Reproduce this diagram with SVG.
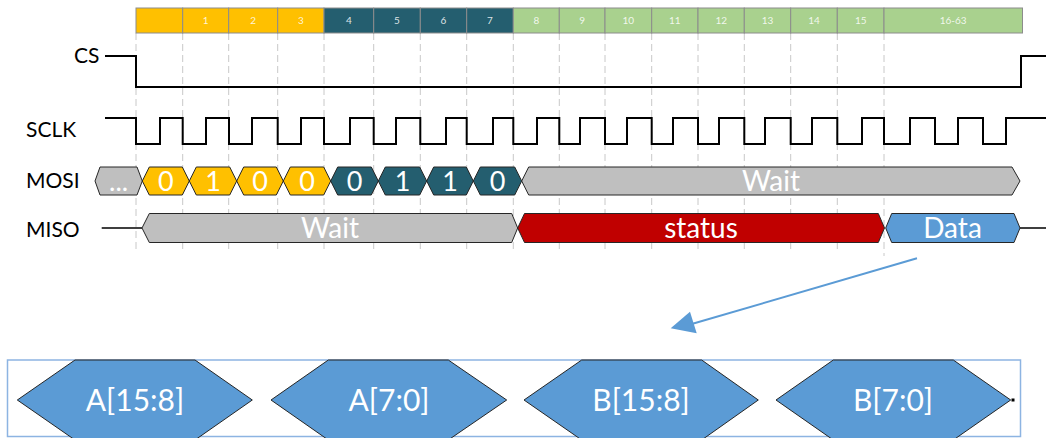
<svg xmlns="http://www.w3.org/2000/svg" width="1046" height="438" viewBox="0 0 1046 438">
<defs>
<style>
.lbl{font-family:Lato,"Liberation Sans",sans-serif;font-size:21px;fill:#000}
.hd{font-family:Lato,"Liberation Sans",sans-serif;font-size:10px;fill:#fff;fill-opacity:0.85;text-anchor:middle}
.cell{stroke:#8c8c8c;stroke-width:1}
.y{fill:#FFC000}
.t{fill:#245E6F}
.g{fill:#A9D18E}
.grid{stroke:#c8c8c8;stroke-width:1;stroke-dasharray:7 4;fill:none}
.wave{fill:none;stroke:#000;stroke-width:2}
.hex{stroke:#262626;stroke-width:1}
.ht{font-family:Lato,"Liberation Sans",sans-serif;font-size:27px;fill:#fff;text-anchor:middle}
.mt{font-family:Lato,"Liberation Sans",sans-serif;font-size:28px;fill:#fff;text-anchor:middle}
.bt{font-family:Lato,"Liberation Sans",sans-serif;font-size:30px;fill:#fff;text-anchor:middle}
</style>
</defs>
<rect width="1046" height="438" fill="#fff"/>

<g id="grid">
<path class="grid" d="M136,33V252M182.7,33V252M228.7,33V252M277.7,33V252M324,33V252M373.7,33V252M420.3,33V252M466.7,33V252M513.3,33V252M559.3,33V252M605,33V252M651.7,33V252M698,33V252M744.3,33V252M790.7,33V252M837.3,33V252M884,33V256"/>
</g>

<g id="header">
<rect class="cell y" x="136" y="8" width="46.7" height="25"/>
<rect class="cell y" x="182.7" y="8" width="46" height="25"/>
<rect class="cell y" x="228.7" y="8" width="49" height="25"/>
<rect class="cell y" x="277.7" y="8" width="46.3" height="25"/>
<rect class="cell t" x="324" y="8" width="49.7" height="25"/>
<rect class="cell t" x="373.7" y="8" width="46.6" height="25"/>
<rect class="cell t" x="420.3" y="8" width="46.4" height="25"/>
<rect class="cell t" x="466.7" y="8" width="46.6" height="25"/>
<rect class="cell g" x="513.3" y="8" width="46" height="25"/>
<rect class="cell g" x="559.3" y="8" width="45.7" height="25"/>
<rect class="cell g" x="605" y="8" width="46.7" height="25"/>
<rect class="cell g" x="651.7" y="8" width="46.3" height="25"/>
<rect class="cell g" x="698" y="8" width="46.3" height="25"/>
<rect class="cell g" x="744.3" y="8" width="46.4" height="25"/>
<rect class="cell g" x="790.7" y="8" width="46.6" height="25"/>
<rect class="cell g" x="837.3" y="8" width="46.7" height="25"/>
<rect class="cell g" x="884" y="8" width="138.5" height="25"/>
<text class="hd" x="205.7" y="24">1</text>
<text class="hd" x="253.2" y="24">2</text>
<text class="hd" x="300.8" y="24">3</text>
<text class="hd" x="348.8" y="24">4</text>
<text class="hd" x="397" y="24">5</text>
<text class="hd" x="443.5" y="24">6</text>
<text class="hd" x="490" y="24">7</text>
<text class="hd" x="536.3" y="24">8</text>
<text class="hd" x="582.2" y="24">9</text>
<text class="hd" x="628.3" y="24">10</text>
<text class="hd" x="674.8" y="24">11</text>
<text class="hd" x="721.2" y="24">12</text>
<text class="hd" x="767.5" y="24">13</text>
<text class="hd" x="814" y="24">14</text>
<text class="hd" x="860.7" y="24">15</text>
<text class="hd" x="953.2" y="24">16-63</text>
</g>

<g id="labels">
<text class="lbl" x="74" y="63">CS</text>
<text class="lbl" x="26" y="137">SCLK</text>
<text class="lbl" x="26" y="188">MOSI</text>
<text class="lbl" x="26" y="237">MISO</text>
</g>

<g id="cs">
<path class="wave" d="M105,56H136V87H1021V56H1046"/>
</g>

<g id="sclk">
<path class="wave" d="M105,118H136V144H160V118H182.7V144H206V118H229V144H252V118H277.7V144H301V118H324V144H350V118H373.7V144H396V118H420.3V144H446V118H466.7V144H493V118H513.3V144H537V118H559.3V144H580V118H605V144H627V118H651.7V144H673V118H698V144H719V118H744.3V144H765V118H790.7V144H812V118H837.3V144H862V118H884V144H910V118H935V144H958V118H983V144H1006V118H1046"/>
</g>

<g id="mosi">
<polygon class="hex" fill="#BFBFBF" points="95,181 100,167 137,167 142.3,181 137,195 100,195"/>
<text class="ht" x="118.6" y="191" font-size="20">...</text>
<polygon class="hex y" points="142.3,181 149.3,167 182.3,167 189.3,181 182.3,195 149.3,195"/>
<text class="ht" x="165.8" y="191">0</text>
<polygon class="hex y" points="189.3,181 196.3,167 229.7,167 236.7,181 229.7,195 196.3,195"/>
<text class="ht" x="213" y="191">1</text>
<polygon class="hex y" points="236.7,181 243.7,167 276.3,167 283.3,181 276.3,195 243.7,195"/>
<text class="ht" x="260" y="191">0</text>
<polygon class="hex y" points="283.3,181 290.3,167 323.7,167 330.7,181 323.7,195 290.3,195"/>
<text class="ht" x="307" y="191">0</text>
<polygon class="hex t" points="330.7,181 337.7,167 371.3,167 378.3,181 371.3,195 337.7,195"/>
<text class="ht" x="354.5" y="191">0</text>
<polygon class="hex t" points="378.3,181 385.3,167 419.7,167 426.7,181 419.7,195 385.3,195"/>
<text class="ht" x="402.5" y="191">1</text>
<polygon class="hex t" points="426.7,181 433.7,167 466.3,167 473.3,181 466.3,195 433.7,195"/>
<text class="ht" x="450" y="191">1</text>
<polygon class="hex t" points="473.3,181 480.3,167 514.7,167 521.7,181 514.7,195 480.3,195"/>
<text class="ht" x="497.5" y="191">0</text>
<polygon class="hex" fill="#BFBFBF" points="521.7,181 528.7,167 1012,167 1020,181 1012,195 528.7,195"/>
<text class="mt" x="771" y="191">Wait</text>
</g>

<g id="miso">
<path fill="none" stroke="#000" stroke-width="1.5" d="M101.7,228H142M1020,228H1046"/>
<polygon class="hex" fill="#BFBFBF" points="142,228 149.3,213.5 511.7,213.5 517.7,228 511.7,242.5 149.3,242.5"/>
<text class="mt" x="330" y="238">Wait</text>
<polygon class="hex" fill="#C00000" points="517.7,228 524.5,213.5 878.3,213.5 884.5,228 878.3,242.5 524.5,242.5"/>
<text class="mt" x="701" y="238">status</text>
<polygon class="hex" fill="#5B9BD5" points="885.7,228 891.7,213.5 1014,213.5 1020,228 1014,242.5 891.7,242.5"/>
<text class="mt" x="952.5" y="238">Data</text>
</g>

<g id="connectors">
<line x1="917" y1="258.3" x2="690" y2="324.5" stroke="#5B9BD5" stroke-width="2"/>
<polygon points="670.7,328.3 690,311.7 696.7,333.3" fill="#5B9BD5"/>
</g>

<g id="dataword">
<rect x="7.5" y="360" width="1013" height="76.5" fill="none" stroke="#8DB4E2" stroke-width="1.5"/>
<polygon class="hex" fill="#5B9BD5" points="17.3,400 75,360 195,360 252.3,400 195,440 75,440"/>
<text class="bt" x="135" y="411">A[15:8]</text>
<polygon class="hex" fill="#5B9BD5" points="271,400 328.3,360 448.3,360 506.7,400 448.3,440 328.3,440"/>
<text class="bt" x="389" y="411">A[7:0]</text>
<polygon class="hex" fill="#5B9BD5" points="524,400 581.7,360 701.7,360 758.3,400 701.7,440 581.7,440"/>
<text class="bt" x="641" y="411">B[15:8]</text>
<polygon class="hex" fill="#5B9BD5" points="776,400 833.3,360 953.3,360 1010.7,400 953.3,440 833.3,440"/>
<text class="bt" x="893" y="411">B[7:0]</text>
<rect x="1011.5" y="398.5" width="3" height="3" fill="#000"/>
</g>
</svg>
